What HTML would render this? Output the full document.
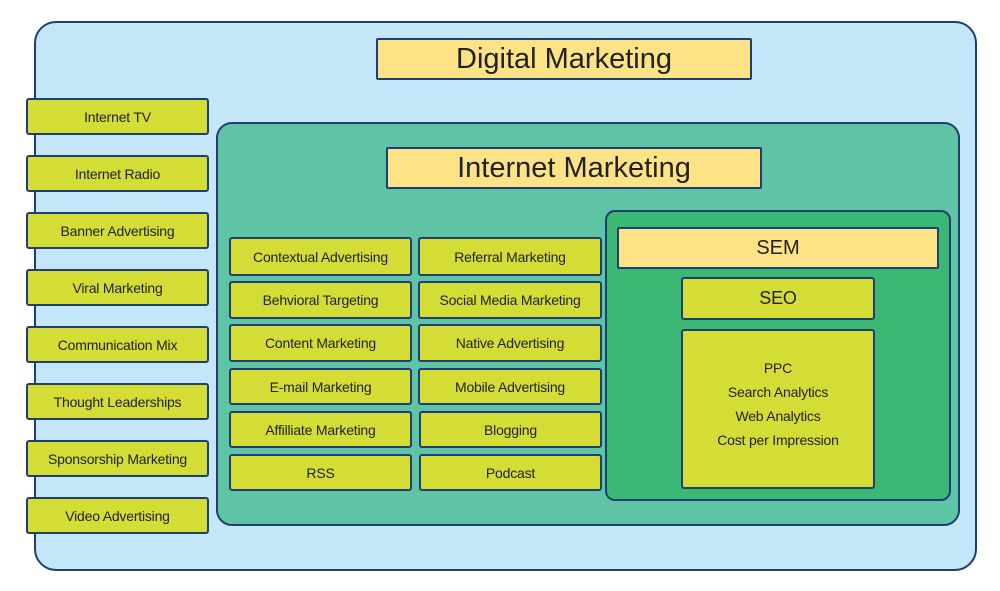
<!DOCTYPE html>
<html><head><meta charset="utf-8"><style>
body{margin:0;width:1000px;height:591px;background:#fff;position:relative;overflow:hidden;font-family:"Liberation Sans",sans-serif;color:#222}
div{position:absolute;box-sizing:border-box;border:2px solid #1f3f72}
.b{background:#d4dd35;border-radius:3px;display:flex;align-items:center;justify-content:center;font-size:14px;white-space:nowrap;letter-spacing:-0.2px}
.y{background:#fde386;border-radius:2px;display:flex;align-items:center;justify-content:center}
</style></head><body>
<div style="left:34px;top:21px;width:943px;height:550px;background:#c3e6f8;border-radius:22px"></div>
<div class="y" style="left:376px;top:38px;width:376px;height:42px;font-size:29px">Digital Marketing</div>
<div style="left:216px;top:122px;width:744px;height:404px;background:#5fc4a6;border-radius:16px"></div>
<div class="y" style="left:386px;top:147px;width:376px;height:42px;font-size:29px">Internet Marketing</div>
<div style="left:605px;top:210px;width:346px;height:291px;background:#3bb873;border-radius:10px"></div>
<div class="y" style="left:617px;top:227px;width:322px;height:42px;font-size:20px">SEM</div>
<div class="b" style="left:681px;top:277px;width:194px;height:43px;font-size:18px">SEO</div>
<div class="b" style="left:681px;top:329px;width:194px;height:160px;font-size:14px;line-height:24px;text-align:center;white-space:normal;padding-bottom:10px">PPC<br>Search Analytics<br>Web Analytics<br>Cost per Impression</div>

<div class="b" style="left:26px;top:98px;width:183px;height:37px">Internet TV</div>
<div class="b" style="left:26px;top:155px;width:183px;height:37px">Internet Radio</div>
<div class="b" style="left:26px;top:212px;width:183px;height:37px">Banner Advertising</div>
<div class="b" style="left:26px;top:269px;width:183px;height:37px">Viral Marketing</div>
<div class="b" style="left:26px;top:326px;width:183px;height:37px">Communication Mix</div>
<div class="b" style="left:26px;top:383px;width:183px;height:37px">Thought Leaderships</div>
<div class="b" style="left:26px;top:440px;width:183px;height:37px">Sponsorship Marketing</div>
<div class="b" style="left:26px;top:497px;width:183px;height:37px">Video Advertising</div>

<div class="b" style="left:229px;top:237px;width:183px;height:39px">Contextual Advertising</div>
<div class="b" style="left:229px;top:281px;width:183px;height:38px">Behvioral Targeting</div>
<div class="b" style="left:229px;top:324px;width:183px;height:38px">Content Marketing</div>
<div class="b" style="left:229px;top:368px;width:183px;height:37px">E-mail Marketing</div>
<div class="b" style="left:229px;top:411px;width:183px;height:37px">Affilliate Marketing</div>
<div class="b" style="left:229px;top:454px;width:183px;height:37px">RSS</div>
<div class="b" style="left:418px;top:237px;width:184px;height:39px">Referral Marketing</div>
<div class="b" style="left:418px;top:281px;width:184px;height:38px">Social Media Marketing</div>
<div class="b" style="left:418px;top:324px;width:184px;height:38px">Native Advertising</div>
<div class="b" style="left:418px;top:368px;width:184px;height:37px">Mobile Advertising</div>
<div class="b" style="left:419px;top:411px;width:183px;height:37px">Blogging</div>
<div class="b" style="left:419px;top:454px;width:183px;height:37px">Podcast</div>
</body></html>
